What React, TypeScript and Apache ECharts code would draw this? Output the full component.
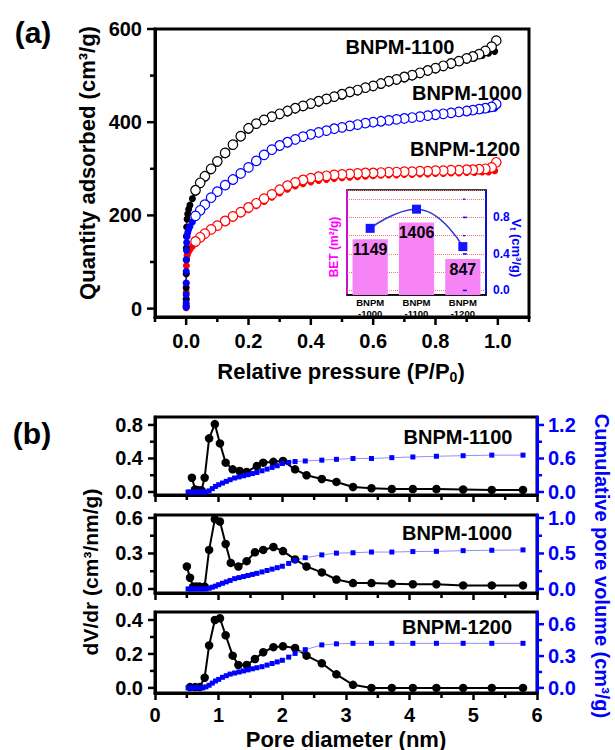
import React, { useEffect, useRef } from 'react';
import * as echarts from 'echarts';

// ---------- Panel (a): N2 adsorption / desorption isotherms ----------
const adsP = [0.00001, 0.00003, 0.00006, 0.0001, 0.0002, 0.0004, 0.0008, 0.0015, 0.003, 0.005, 0.008, 0.012, 0.02, 0.03, 0.045, 0.06, 0.08, 0.1, 0.125, 0.15, 0.175, 0.2, 0.225, 0.25, 0.275, 0.3, 0.325, 0.35, 0.375, 0.4, 0.425, 0.45, 0.475, 0.5, 0.525, 0.55, 0.575, 0.6, 0.625, 0.65, 0.675, 0.7, 0.725, 0.75, 0.775, 0.8, 0.825, 0.85, 0.875, 0.9, 0.925, 0.95, 0.97, 0.99];
const ads1100 = [5, 20, 45, 75, 105, 130, 155, 175, 192, 203, 213, 222, 236, 250, 266, 280, 296, 312, 330, 348, 366, 383, 393, 401, 408, 414, 420, 426, 431, 436, 441, 446, 451, 456, 461, 465, 470, 474, 479, 484, 488, 493, 497, 502, 507, 512, 517, 522, 528, 533, 538, 543, 548, 552];
const ads1000 = [3, 12, 30, 55, 80, 105, 125, 142, 155, 163, 170, 176, 186, 196, 208, 220, 235, 248, 262, 274, 287, 300, 314, 327, 338, 347, 354, 360, 366, 371, 375, 379, 383, 386, 389, 392, 395, 397, 400, 402, 404, 406, 408, 410, 412, 414, 416, 418, 420, 422, 424, 426, 428, 430];
const ads1200 = [2, 8, 20, 35, 55, 75, 92, 105, 114, 119, 123, 127, 134, 141, 150, 158, 167, 175, 185, 194, 203, 212, 221, 230, 239, 248, 256, 263, 268, 272, 275, 277, 279, 281, 282, 283, 284, 285, 286, 287, 287, 288, 288, 289, 289, 290, 290, 291, 291, 292, 292, 293, 293, 296];

const desP = [0.995, 0.98, 0.96, 0.94, 0.92, 0.9, 0.875, 0.85, 0.825, 0.8, 0.775, 0.75, 0.725, 0.7, 0.675, 0.65, 0.625, 0.6, 0.575, 0.55, 0.525, 0.5, 0.475, 0.45, 0.425, 0.4, 0.375, 0.35, 0.325, 0.3, 0.275, 0.25, 0.225, 0.2, 0.175, 0.15, 0.125, 0.1, 0.08, 0.06, 0.045, 0.03];
const des1100 = [575, 562, 553, 546, 541, 537, 531, 526, 521, 516, 511, 506, 501, 497, 492, 488, 483, 478, 474, 469, 465, 460, 455, 450, 445, 440, 435, 430, 424, 418, 412, 405, 397, 387, 370, 352, 334, 316, 300, 284, 270, 254];
const des1000 = [439, 433, 430, 428, 426, 424, 422, 420, 418, 416, 414, 412, 410, 408, 406, 404, 402, 400, 398, 395, 392, 389, 386, 382, 378, 374, 369, 363, 357, 350, 341, 330, 317, 303, 290, 277, 265, 251, 238, 223, 211, 199];
const des1200 = [314, 303, 300, 299, 298, 298, 297, 297, 296, 296, 295, 295, 294, 294, 293, 293, 292, 291, 291, 290, 289, 288, 287, 285, 283, 280, 276, 271, 264, 255, 245, 236, 226, 217, 207, 198, 188, 178, 170, 161, 153, 144];

// ---------- Inset: BET surface area and total pore volume ----------
const insetCats = ['BNPM\n-1000', 'BNPM\n-1100', 'BNPM\n-1200'];
const betValues = [1149, 1406, 847];
const vtValues = [0.68, 0.89, 0.48];

// ---------- Panel (b): pore size distributions ----------
const psdD1100 = [0.58, 0.63, 0.68, 0.73, 0.78, 0.85, 0.94, 1.02, 1.11, 1.22, 1.33, 1.44, 1.6, 1.7, 1.86, 2.01, 2.2, 2.38, 2.62, 2.85, 3.11, 3.4, 3.72, 4.05, 4.42, 4.84, 5.29, 5.78];
const psdV1100 = [0.17, 0.03, 0.02, 0.02, 0.17, 0.64, 0.81, 0.58, 0.35, 0.27, 0.25, 0.24, 0.31, 0.35, 0.36, 0.37, 0.27, 0.2, 0.155, 0.12, 0.06, 0.045, 0.035, 0.035, 0.035, 0.03, 0.025, 0.025];
const psdD1000 = [0.5, 0.55, 0.6, 0.65, 0.7, 0.78, 0.85, 0.94, 1.02, 1.11, 1.19, 1.31, 1.44, 1.57, 1.7, 1.86, 2.01, 2.2, 2.38, 2.62, 2.85, 3.11, 3.4, 3.72, 4.05, 4.42, 4.84, 5.29, 5.78];
const psdV1000 = [0.19, 0.095, 0.02, 0.02, 0.02, 0.02, 0.33, 0.59, 0.57, 0.38, 0.22, 0.19, 0.235, 0.31, 0.33, 0.355, 0.32, 0.25, 0.19, 0.14, 0.08, 0.05, 0.05, 0.045, 0.04, 0.04, 0.03, 0.03, 0.03];
const psdD1200 = [0.55, 0.63, 0.7, 0.78, 0.85, 0.94, 1.02, 1.11, 1.22, 1.31, 1.44, 1.57, 1.7, 1.86, 2.01, 2.2, 2.38, 2.62, 2.85, 3.11, 3.4, 3.72, 4.05, 4.42, 4.84, 5.29, 5.78];
const psdV1200 = [0.005, 0.005, 0.005, 0.06, 0.25, 0.4, 0.41, 0.31, 0.19, 0.135, 0.135, 0.17, 0.21, 0.24, 0.245, 0.235, 0.19, 0.145, 0.08, 0.018, 0, 0, 0, 0, 0, 0, 0];

const cumD = [0.52, 0.56, 0.6, 0.65, 0.7, 0.75, 0.8, 0.85, 0.9, 0.95, 1.0, 1.06, 1.12, 1.18, 1.25, 1.32, 1.39, 1.46, 1.53, 1.6, 1.68, 1.76, 1.84, 1.92, 2.0, 2.1, 2.2, 2.36, 2.62, 2.85, 3.11, 3.4, 3.72, 4.05, 4.42, 4.84, 5.29, 5.78];
const cum1100 = [0, 0, 0, 0, 0, 0, 0, 0.02, 0.06, 0.1, 0.13, 0.16, 0.19, 0.22, 0.25, 0.27, 0.29, 0.31, 0.33, 0.35, 0.38, 0.41, 0.44, 0.47, 0.51, 0.53, 0.545, 0.555, 0.57, 0.585, 0.6, 0.6, 0.615, 0.627, 0.64, 0.65, 0.66, 0.66];
const cum1000 = [0, 0, 0, 0, 0, 0, 0, 0.01, 0.025, 0.04, 0.06, 0.08, 0.1, 0.12, 0.145, 0.16, 0.175, 0.19, 0.205, 0.22, 0.24, 0.26, 0.28, 0.3, 0.32, 0.36, 0.4, 0.44, 0.48, 0.505, 0.51, 0.52, 0.52, 0.527, 0.53, 0.54, 0.545, 0.55];
const cum1200 = [0, 0, 0, 0, 0, 0, 0.01, 0.025, 0.045, 0.065, 0.08, 0.1, 0.115, 0.13, 0.14, 0.15, 0.16, 0.17, 0.18, 0.19, 0.2, 0.215, 0.23, 0.245, 0.26, 0.29, 0.325, 0.36, 0.405, 0.415, 0.42, 0.42, 0.42, 0.42, 0.42, 0.42, 0.42, 0.42];

// ---------- tick values ----------
const isoXMajor = [0, 0.2, 0.4, 0.6, 0.8, 1.0];
const isoXMinor = [-0.1, 0.1, 0.3, 0.5, 0.7, 0.9, 1.1];
const isoYMajor = [0, 200, 400, 600];
const isoYMinor = [100, 300, 500];
const vtMajor = [0, 0.4, 0.8];
const vtMinor = [0.2, 0.6, 1.0];
const poreMajor = [0, 1, 2, 3, 4, 5, 6];
const poreMinor = [0.5, 1.5, 2.5, 3.5, 4.5, 5.5];
const b1LeftMajor = [0, 0.4, 0.8];
const b1LeftMinor = [0.2, 0.6];
const b1RightMajor = [0, 0.6, 1.2];
const b1RightMinor = [0.3, 0.9];
const b2LeftMajor = [0, 0.3, 0.6];
const b2LeftMinor = [0.15, 0.45];
const b2RightMajor = [0, 0.5, 1.0];
const b2RightMinor = [0.25, 0.75];
const b3LeftMajor = [0, 0.2, 0.4];
const b3LeftMinor = [0.1, 0.3];
const b3RightMajor = [0, 0.3, 0.6];
const b3RightMinor = [0.15, 0.45];

const FONT = '"Liberation Sans", Arial, sans-serif';
const BLUE = '#0000ff';
const MAGENTA = '#ff00ff';

const pair = (xs: number[], ys: number[]) => xs.map((x, i) => [x, ys[i]]);
const fmt1 = (v: number) => Number(v).toFixed(1);
const fmt0 = (v: number) => String(Math.round(v));

type Lbl = { values: number[]; fmt: (v: number) => string; margin: number; size: number; color?: string } | null;

// axis with line + labels; its own ticks only where the extent is a whole number of steps
const mkAxis = (
  gridIndex: number, position: string, min: number, max: number, step: number,
  color: string, lineWidth: number, ownTicks: number, label: Lbl,
) => ({
  type: 'value', gridIndex, position, min, max, minInterval: step, maxInterval: step,
  axisLine: { show: true, onZero: false, lineStyle: { color, width: lineWidth } },
  axisTick: ownTicks > 0 ? { show: true, length: ownTicks, lineStyle: { color, width: 2.5 } } : { show: false },
  axisLabel: label
    ? {
      show: true,
      formatter: (v: number) => (label.values.some((l) => Math.abs(l - v) < 1e-6) ? label.fmt(v) : ''),
      margin: label.margin, color: label.color ?? color, fontSize: label.size, fontWeight: 'bold', fontFamily: FONT,
    }
    : { show: false },
  splitLine: { show: false },
});

// tick marks drawn as a custom series, positioned through the axes' own scales
const tickSeries = (
  xIdx: number, yIdx: number, kind: 'bottom' | 'left' | 'right',
  values: number[], edge: number, len: number, color: string, width: number,
) => ({
  type: 'custom', xAxisIndex: xIdx, yAxisIndex: yIdx, clip: false, z: 6,
  data: values.map((v) => (kind === 'bottom' ? [v, edge] : [edge, v])),
  renderItem: (params: any, api: any) => {
    const p = api.coord([api.value(0), api.value(1)]);
    if (kind === 'bottom') {
      return { type: 'group', children: [{ type: 'line', shape: { x1: p[0], y1: p[1], x2: p[0], y2: p[1] + len }, style: { stroke: color, lineWidth: width } }] };
    }
    const dx = kind === 'left' ? -len : len;
    return { type: 'group', children: [{ type: 'line', shape: { x1: p[0], y1: p[1], x2: p[0] + dx, y2: p[1] }, style: { stroke: color, lineWidth: width } }] };
  },
});

function buildOption() {
  const grids = [
    { left: 155, top: 29, width: 374, height: 288, show: true, borderColor: '#000', borderWidth: 3 },
    { left: 347, top: 190, width: 139, height: 105, show: true, borderColor: '#000', borderWidth: 1.5, backgroundColor: '#fff' },
    { left: 155, top: 417, width: 382, height: 78, show: true, borderColor: '#000', borderWidth: 3 },
    { left: 155, top: 515, width: 382, height: 78, show: true, borderColor: '#000', borderWidth: 3 },
    { left: 155, top: 612, width: 382, height: 81, show: true, borderColor: '#000', borderWidth: 3 },
  ];

  // xAxis: 0 = isotherm, 1 = inset categories, 2..4 = pore panels
  const xAxis: any[] = [
    mkAxis(0, 'bottom', -0.1, 1.1, 0.2, '#000', 3, 0, { values: isoXMajor, fmt: fmt1, margin: 14, size: 20 }),
    {
      type: 'category', gridIndex: 1, data: insetCats,
      axisLine: { onZero: false, lineStyle: { color: '#000', width: 1.5 } },
      axisTick: { show: false },
      axisLabel: { fontSize: 9.5, fontWeight: 'bold', fontFamily: FONT, color: '#000', lineHeight: 11, margin: 2 },
      splitLine: { show: false },
    },
  ];
  for (let i = 0; i < 3; i++) {
    xAxis.push(mkAxis(2 + i, 'bottom', 0, 6, 1, '#000', 3, 7,
      i === 2 ? { values: poreMajor, fmt: fmt0, margin: 12, size: 20 } : null));
  }

  // yAxis: 0 = isotherm, 1 = BET, 2 = Vt, 3 = inset grid lines, 4.. = pore panels (left, right)
  const yAxis: any[] = [
    mkAxis(0, 'left', -18, 600, 200, '#000', 3, 0, { values: isoYMajor, fmt: fmt0, margin: 13, size: 20 }),
    {
      type: 'value', gridIndex: 1, position: 'left', min: 300, max: 1900,
      axisLine: { show: true, onZero: false, lineStyle: { color: MAGENTA, width: 1.5 } },
      axisTick: { show: false }, axisLabel: { show: false }, splitLine: { show: false },
    },
    mkAxis(1, 'right', -0.05, 1.1, 0.4, BLUE, 1.5, 0, { values: vtMajor, fmt: fmt1, margin: 7, size: 12 }),
    {
      type: 'value', gridIndex: 1, position: 'right', min: -0.05, max: 1.1, minInterval: 0.2, maxInterval: 0.2,
      axisLine: { show: false, onZero: false },
      axisTick: { show: false },
      axisLabel: { show: false },
      splitLine: { show: true, lineStyle: { color: '#ff7070', type: 'dotted', width: 1 } },
    },
  ];

  const bCfg = [
    { lmin: -0.036, lmax: 0.895, ls: 0.4, lv: b1LeftMajor, lm: b1LeftMinor, rmin: -0.054, rmax: 1.343, rs: 0.6, rv: b1RightMajor, rm: b1RightMinor },
    { lmin: -0.034, lmax: 0.625, ls: 0.3, lv: b2LeftMajor, lm: b2LeftMinor, rmin: -0.057, rmax: 1.042, rs: 0.5, rv: b2RightMajor, rm: b2RightMinor },
    { lmin: -0.03, lmax: 0.447, ls: 0.2, lv: b3LeftMajor, lm: b3LeftMinor, rmin: -0.048, rmax: 0.715, rs: 0.3, rv: b3RightMajor, rm: b3RightMinor },
  ];
  bCfg.forEach((c, i) => {
    const g = 2 + i;
    yAxis.push(mkAxis(g, 'left', c.lmin, c.lmax, c.ls, '#000', 3, 0, { values: c.lv, fmt: fmt1, margin: 12, size: 20 }));
    yAxis.push(mkAxis(g, 'right', c.rmin, c.rmax, c.rs, BLUE, 3, 0, { values: c.rv, fmt: fmt1, margin: 11, size: 20, color: BLUE }));
  });

  const series: any[] = [];
  const iso = (color: string, ads: number[], des: number[]) => {
    series.push({
      type: 'line', xAxisIndex: 0, yAxisIndex: 0, data: pair(adsP, ads),
      symbol: 'circle', symbolSize: 7, itemStyle: { color }, lineStyle: { color, width: 1 },
    });
    series.push({
      type: 'line', xAxisIndex: 0, yAxisIndex: 0, data: pair(desP, des),
      symbol: 'circle', symbolSize: 9.5, itemStyle: { color: '#fff', borderColor: color, borderWidth: 1.2 },
      lineStyle: { color, width: 1 },
    });
  };
  iso('#ff0000', ads1200, des1200);
  iso('#000000', ads1100, des1100);
  iso('#0000ff', ads1000, des1000);

  series.push({
    type: 'bar', xAxisIndex: 1, yAxisIndex: 1, data: betValues, barWidth: '76%',
    itemStyle: { color: '#f684f6' },
    label: { show: true, position: 'insideTop', distance: 2, color: '#000', fontSize: 16, fontWeight: 'bold', fontFamily: FONT },
  });
  series.push({
    type: 'line', xAxisIndex: 1, yAxisIndex: 2, data: vtValues, smooth: true,
    symbol: 'rect', symbolSize: 9, itemStyle: { color: '#1414ff' }, lineStyle: { color: '#3535d6', width: 1.5 },
  });

  const psd = [
    { d: psdD1100, v: psdV1100, c: cum1100 },
    { d: psdD1000, v: psdV1000, c: cum1000 },
    { d: psdD1200, v: psdV1200, c: cum1200 },
  ];
  psd.forEach((p, i) => {
    series.push({
      type: 'line', xAxisIndex: 2 + i, yAxisIndex: 4 + 2 * i, data: pair(p.d, p.v),
      symbol: 'circle', symbolSize: 8.5, itemStyle: { color: '#000' }, lineStyle: { color: '#000', width: 2 },
    });
    series.push({
      type: 'line', xAxisIndex: 2 + i, yAxisIndex: 5 + 2 * i, data: pair(cumD, p.c),
      symbol: 'rect', symbolSize: 5, itemStyle: { color: BLUE }, lineStyle: { color: '#9090ff', width: 1 },
    });
  });

  // outward tick marks
  series.push(tickSeries(0, 0, 'bottom', isoXMajor, -18, 8, '#000', 2.5));
  series.push(tickSeries(0, 0, 'bottom', isoXMinor, -18, 5, '#000', 2.5));
  series.push(tickSeries(0, 0, 'left', isoYMajor, -0.1, 8, '#000', 2.5));
  series.push(tickSeries(0, 0, 'left', isoYMinor, -0.1, 5, '#000', 2.5));
  series.push(tickSeries(1, 2, 'right', vtMajor, 2, 4, BLUE, 1.5));
  series.push(tickSeries(1, 2, 'right', vtMinor, 2, 2.5, BLUE, 1.2));
  bCfg.forEach((c, i) => {
    const xi = 2 + i;
    const yl = 4 + 2 * i;
    const yr = 5 + 2 * i;
    series.push(tickSeries(xi, yl, 'bottom', poreMinor, c.lmin, 5, '#000', 2.5));
    series.push(tickSeries(xi, yl, 'left', c.lv, 0, 7, '#000', 2.5));
    series.push(tickSeries(xi, yl, 'left', c.lm, 0, 5, '#000', 2.5));
    series.push(tickSeries(xi, yr, 'right', c.rv, 6, 7, BLUE, 2.5));
    series.push(tickSeries(xi, yr, 'right', c.rm, 6, 5, BLUE, 2.5));
  });

  const t = (x: number, y: number, text: string, size: number, fill = '#000', rotation = 0, rich?: any) => ({
    type: 'text', x, y, rotation, z: 100,
    style: {
      text, fill, fontSize: size, fontWeight: 'bold', fontFamily: FONT,
      align: 'center', verticalAlign: 'middle', textAlign: 'center', textVerticalAlign: 'middle', rich,
    },
  });

  const graphic = [
    t(33, 32, '(a)', 30),
    t(32, 433, '(b)', 30),
    t(87, 163, 'Quantity adsorbed (cm³/g)', 22, '#000', Math.PI / 2),
    t(341, 371, '{m|Relative pressure (P/P}{s|0}{m|)}', 22, '#000', 0, {
      m: { fontSize: 22, fontWeight: 'bold', fontFamily: FONT, fill: '#000', lineHeight: 26 },
      s: { fontSize: 14, fontWeight: 'bold', fontFamily: FONT, fill: '#000', lineHeight: 16, verticalAlign: 'bottom' },
    }),
    t(400, 47, 'BNPM-1100', 20),
    t(467, 93, 'BNPM-1000', 20),
    t(465, 149, 'BNPM-1200', 20),
    t(334, 247, 'BET (m²/g)', 12, MAGENTA, Math.PI / 2),
    t(516, 248, '{m|V}{s|t}{m| (cm³/g)}', 13, BLUE, -Math.PI / 2, {
      m: { fontSize: 13, fontWeight: 'bold', fontFamily: FONT, fill: BLUE, lineHeight: 16 },
      s: { fontSize: 9, fontWeight: 'bold', fontFamily: FONT, fill: BLUE, lineHeight: 11, verticalAlign: 'bottom' },
    }),
    t(90, 572, 'dV/dr (cm³/nm/g)', 21, '#000', Math.PI / 2),
    t(602, 566, 'Cumulative pore volume (cm³/g)', 20, BLUE, -Math.PI / 2),
    t(346, 739, 'Pore diameter (nm)', 22),
    t(458, 437, 'BNPM-1100', 20),
    t(457, 533, 'BNPM-1000', 20),
    t(457, 627, 'BNPM-1200', 20),
  ];

  return {
    animation: false,
    backgroundColor: '#fff',
    grid: grids,
    xAxis,
    yAxis,
    series,
    graphic,
  };
}

export default function App() {
  const ref = useRef<HTMLDivElement>(null);
  useEffect(() => {
    if (!ref.current) return;
    const chart = echarts.init(ref.current, null, { renderer: 'svg' });
    chart.setOption(buildOption() as any);
    return () => chart.dispose();
  }, []);
  return (
    <div
      ref={ref}
      style={{ position: 'fixed', left: 0, top: 0, width: 615, height: 750, background: '#fff' }}
    />
  );
}
